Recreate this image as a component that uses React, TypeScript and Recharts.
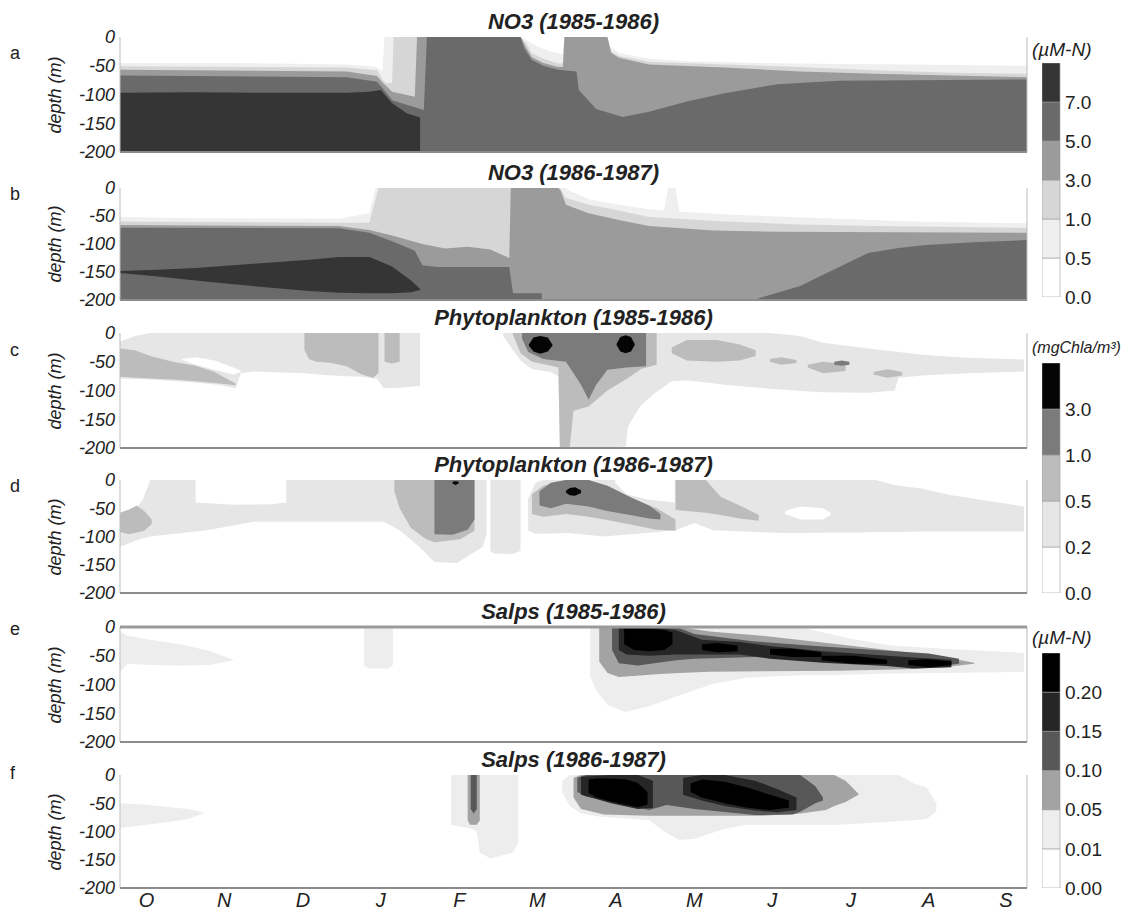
import React from 'react'
import { ComposedChart, Area, XAxis, YAxis, ReferenceLine, BarChart, Bar } from 'recharts'

// [month since 1 Oct, upper depth, lower depth]
type Pt = [number, number, number]
type Shape = [string, Pt[]]

const FONT = "'Liberation Sans', Arial, Helvetica, sans-serif"

const MONTHS = ['O', 'N', 'D', 'J', 'F', 'M', 'A', 'M', 'J', 'J', 'A', 'S']
const MONTH_POS = [0.35, 1.38, 2.42, 3.45, 4.49, 5.52, 6.56, 7.6, 8.63, 9.67, 10.7, 11.72]
const DEPTH_TICKS = [0, -50, -100, -150, -200]

// grey levels
const N05 = '#efefef', N1 = '#d6d6d6', N3 = '#9b9b9b', N5 = '#6a6a6a', N7 = '#353535'
const P02 = '#e6e6e6', P05 = '#bcbcbc', P1 = '#7b7b7b', P3 = '#050505'
const S001 = '#ededed', S005 = '#a3a3a3', S010 = '#585858', S015 = '#262626', S020 = '#000000'

const no3Labels = ['0.0', '0.5', '1.0', '3.0', '5.0', '7.0']
const no3Colors = ['#ffffff', N05, N1, N3, N5, N7]
const phyLabels = ['0.0', '0.2', '0.5', '1.0', '3.0']
const phyColors = ['#ffffff', P02, P05, P1, P3]
const salLabels = ['0.00', '0.01', '0.05', '0.10', '0.15', '0.20']
const salColors = ['#ffffff', S001, S005, S010, S015, S020]

const floor = (pts: [number, number][]): Pt[] => pts.map(([x, t]) => [x, t, -200])

// ---- a: NO3 1985-1986
const aGe05 = floor([[0, -45], [1, -45], [2, -46], [3, -48], [3.4, -52], [3.47, -60], [3.5, 0], [5.3, 0], [5.38, -5], [5.5, -15], [5.7, -25], [5.86, -30], [5.88, 0], [6.42, 0], [6.47, -15], [6.6, -28], [7, -38], [7.5, -42], [8.5, -45], [9.5, -47], [10.5, -48], [12, -50]])
const aGe1 = floor([[0, -51], [3, -53], [3.4, -58], [3.48, -75], [3.52, -80], [3.6, -80], [3.62, 0], [5.3, 0], [5.37, -10], [5.45, -28], [5.6, -38], [5.8, -46], [5.86, -46], [5.88, 0], [6.42, 0], [6.46, -22], [6.6, -33], [7, -43], [8, -48], [9, -52], [10, -58], [11, -62], [12, -64]])
const aGe3 = floor([[0, -57], [3, -60], [3.4, -68], [3.48, -80], [3.6, -95], [3.9, -104], [3.93, 0], [5.3, 0], [5.36, -15], [5.45, -35], [5.6, -45], [5.8, -52], [5.86, -52], [5.88, 0], [6.45, 0], [6.5, -28], [6.6, -36], [7, -48], [8, -53], [9, -60], [10, -64], [11, -67], [12, -70]])
const aGe5 = floor([[0, -67], [3, -70], [3.4, -78], [3.48, -90], [3.6, -110], [3.9, -122], [4.02, -127], [4.06, 0], [5.3, 0], [5.35, -20], [5.45, -40], [5.6, -50], [5.8, -57], [6.04, -60], [6.07, -92], [6.3, -125], [6.65, -139], [7, -130], [7.5, -112], [8, -98], [8.7, -82], [9.5, -76], [10.5, -75], [12, -74]])
const aGe7 = floor([[0, -97], [1, -96], [2, -97], [3, -97], [3.3, -95], [3.45, -92], [3.6, -115], [3.8, -133], [3.97, -140]])

// ---- b: NO3 1986-1987
const bGe05 = floor([[0, -52], [1, -54], [2.9, -55], [3.3, -45], [3.38, 0], [5.9, 0], [5.95, -5], [6.2, -20], [6.6, -30], [7, -38], [7.2, -40], [7.25, 0], [7.35, 0], [7.4, -42], [8, -47], [8.5, -50], [9.5, -55], [10.5, -60], [12, -63]])
const bGe1 = floor([[0, -60], [2.9, -62], [3.3, -62], [3.42, 0], [5.82, 0], [5.9, -18], [6.2, -30], [6.6, -40], [7, -52], [8, -60], [9, -65], [10, -68], [12, -71]])
const bGe3 = floor([[0, -66], [2.9, -68], [3.3, -75], [3.6, -85], [4, -100], [4.3, -108], [4.6, -105], [4.9, -110], [5.1, -122], [5.15, -125], [5.17, 0], [5.8, 0], [5.83, -5], [5.9, -30], [6.2, -45], [6.6, -57], [7, -68], [7.85, -76], [8.7, -78], [12, -80]])
const bGe5a = floor([[0, -71], [2.9, -72], [3.3, -80], [3.6, -95], [3.9, -112], [4, -138], [4.2, -141], [5.15, -141], [5.2, -188], [5.58, -188]])
const bGe5b = floor([[8.4, -200], [8.47, -196], [9, -175], [9.35, -152], [9.9, -116], [10.3, -107], [10.67, -102], [11.3, -97], [12, -93]])
const bGe7: Pt[] = [[0, -148, -152], [0.5, -146, -158], [1, -143, -165], [1.5, -138, -172], [2, -133, -178], [2.5, -128, -184], [2.9, -123, -187], [3.3, -123, -188], [3.6, -140, -188], [3.85, -165, -186], [3.97, -180, -182]]

// ---- c: Phytoplankton 1985-1986
const cGe02Left: Pt[] = [[0, -15, -79], [0.2, -5, -80], [0.4, 0, -81], [0.9, 0, -85], [1.3, 0, -90], [1.53, 0, -96], [1.6, 0, -70], [1.77, 0, -67], [2.44, 0, -70], [2.8, 0, -74], [3.2, 0, -76], [3.4, 0, -80], [3.49, 0, -96], [3.7, 0, -95], [3.97, 0, -92]]
const cGap: Pt[] = [[0.82, -45, -47], [1.0, -42, -55], [1.25, -48, -64], [1.5, -60, -72], [1.6, -66, -68]]
const cGe05Wedge: Pt[] = [[0, -27, -76], [0.2, -30, -78], [0.4, -40, -79], [0.7, -50, -81], [1.0, -57, -84], [1.25, -68, -87], [1.53, -88, -91]]
const cGe05Block: Pt[] = [[2.44, 0, -29], [2.5, 0, -45], [2.6, 0, -50], [2.8, 0, -52], [3.0, 0, -58], [3.2, 0, -72], [3.35, 0, -78], [3.42, 0, -69]]
const cGe05Strip: Pt[] = [[3.5, 0, -50], [3.6, 0, -53], [3.7, 0, -50]]
const cGe02Bloom: Pt[] = [[5.07, 0, -5], [5.2, 0, -30], [5.3, 0, -48], [5.45, 0, -63], [5.7, 0, -68], [5.8, 0, -75], [5.82, 0, -200], [6.69, 0, -198], [6.72, 0, -163], [6.88, 0, -128], [7.07, 0, -105], [7.3, 0, -84], [7.5, 0, -82], [8, 0, -90], [8.6, 0, -97], [9, -5, -101], [9.3, -17, -103], [9.9, -27, -104], [10.25, -32, -100], [10.3, -33, -78], [10.62, -38, -74], [11.2, -43, -70], [11.96, -46, -67]]
const cGe05Bloom: Pt[] = [[5.2, 0, -3], [5.3, 0, -35], [5.45, 0, -50], [5.7, 0, -57], [5.8, 0, -60], [5.82, 0, -200], [5.95, 0, -200], [6, 0, -135], [6.2, 0, -128], [6.45, 0, -100], [6.7, 0, -80], [6.9, 0, -62], [7.1, 0, -55]]
const cGe05Fish: Pt[] = [[7.3, -25, -35], [7.5, -12, -48], [7.9, -12, -50], [8.2, -20, -48], [8.41, -30, -40]]
const cGe05Bits1: Pt[] = [[8.6, -45, -50], [8.75, -42, -55], [8.95, -47, -52]]
const cGe05Bits2: Pt[] = [[9.1, -55, -60], [9.3, -50, -70], [9.6, -54, -66]]
const cGe05Bits3: Pt[] = [[9.97, -68, -72], [10.15, -63, -78], [10.35, -68, -74]]
const cGe1Bloom: Pt[] = [[5.32, 0, -10], [5.4, 0, -33], [5.6, 0, -45], [5.9, 0, -50], [6.1, 0, -90], [6.2, 0, -116], [6.3, 0, -90], [6.45, 0, -64], [6.7, 0, -60], [6.96, 0, -58]]
const cGe1Dot: Pt[] = [[9.45, -50, -55], [9.55, -48, -57], [9.65, -50, -55]]
const cGe3Blob1: Pt[] = [[5.41, -20, -22], [5.47, -8, -32], [5.56, -5, -36], [5.66, -8, -32], [5.72, -20, -22]]
const cGe3Blob2: Pt[] = [[6.57, -19, -21], [6.62, -7, -32], [6.69, -4, -35], [6.76, -7, -32], [6.81, -19, -21]]

// ---- d: Phytoplankton 1986-1987
const dGe02Left: Pt[] = [[0, -88, -118], [0.2, -53, -108], [0.3, -35, -103], [0.4, 0, -100], [1.15, 0, -89], [1.77, 0, -74], [3.49, 0, -74], [3.7, 0, -89], [3.96, 0, -118], [4.16, 0, -145], [4.46, 0, -147], [4.8, 0, -118], [4.85, 0, -96]]
const dGap1: Pt[] = [[1.0, 0, -40], [1.5, 0, -44], [2.0, 0, -43], [2.2, 0, -40]]
const dGe05Left: Pt[] = [[0, -58, -92], [0.12, -52, -96], [0.22, -45, -93], [0.32, -55, -90], [0.42, -70, -78]]
const dGe05F: Pt[] = [[3.63, 0, -20], [3.7, 0, -50], [3.85, 0, -85], [4.05, 0, -105], [4.16, 0, -110], [4.5, 0, -105], [4.69, 0, -90]]
const dGe1F: Pt[] = [[4.16, 0, -96], [4.4, 0, -97], [4.6, 0, -88], [4.69, 0, -70]]
const dGe3Dot: Pt[] = [[4.4, -3, -6], [4.44, -2, -9], [4.48, -3, -6]]
const dGe02Strip: Pt[] = [[4.9, 0, -125], [4.95, 0, -130], [5.2, 0, -131], [5.3, 0, -125]]
const dGe02Bloom: Pt[] = [[5.4, -33, -90], [5.5, -5, -95], [5.6, 0, -95], [5.93, 0, -94], [6.4, 0, -100], [6.96, 0, -94], [7.35, 0, -89], [7.6, 0, -76], [7.85, 0, -89], [8.8, 0, -94], [9.8, 0, -93], [10, 0, -92], [10.24, -9, -92], [10.6, -15, -91], [11, -27, -91], [11.96, -47, -91]]
const dGap2: Pt[] = [[6.55, 0, -5], [6.7, 0, -25], [7.0, 0, -35], [7.34, 0, -40]]
const dGap3: Pt[] = [[8.8, -55, -60], [9.0, -47, -70], [9.3, -50, -70], [9.4, -58, -62]]
const dGe05Bloom: Pt[] = [[5.45, -25, -60], [5.6, -10, -65], [5.9, 0, -60], [6.2, 0, -65], [6.5, -20, -72], [6.8, -35, -80], [7.1, -50, -88], [7.35, -70, -90]]
const dGe05Block: Pt[] = [[7.35, 0, -53], [7.75, 0, -58], [7.95, -30, -62], [8.2, -45, -68], [8.45, -62, -72]]
const dGe1Bloom: Pt[] = [[5.55, -20, -45], [5.7, -5, -50], [5.9, 0, -42], [6.2, 0, -47], [6.45, -10, -55], [6.75, -30, -62], [7, -45, -68], [7.15, -60, -70]]
const dGe3Blob: Pt[] = [[5.9, -19, -22], [5.95, -14, -27], [6.02, -13, -28], [6.1, -18, -23]]

// ---- e: Salps 1985-1986
const eGe001Left: Pt[] = [[0, -8, -78], [0.1, -15, -64], [0.4, -22, -66], [0.8, -30, -67], [1.2, -42, -66], [1.5, -57, -58]]
const eGe001Strip: Pt[] = [[3.23, 0, -68], [3.3, 0, -72], [3.55, 0, -72], [3.61, 0, -66]]
const eGe001Bloom: Pt[] = [[6.22, 0, -85], [6.3, 0, -110], [6.45, 0, -135], [6.69, 0, -148], [7, 0, -138], [7.36, 0, -121], [7.84, 0, -99], [8.3, 0, -88], [9, 0, -84], [9.65, -20, -83], [10.2, -32, -81], [10.9, -38, -80], [11.96, -45, -78]]
const eGe005: Pt[] = [[6.34, 0, -60], [6.45, 0, -80], [6.6, 0, -87], [7.1, 0, -82], [7.4, 0, -80], [7.8, -8, -78], [8.5, -15, -77], [9.5, -30, -76], [10.5, -45, -73], [10.9, -52, -70], [11.3, -62, -64]]
const eGe010: Pt[] = [[6.51, 0, -40], [6.6, 0, -63], [6.85, 0, -67], [7.36, 0, -58], [7.6, -12, -55], [8.4, -25, -52], [9.2, -33, -58], [10, -40, -65], [10.7, -46, -70], [11.1, -55, -64]]
const eGe015: Pt[] = [[6.6, 0, -40], [6.7, 0, -48], [7, 0, -50], [7.35, -5, -48], [7.7, -22, -48], [8.2, -26, -48], [8.6, -33, -55], [9.3, -42, -62], [10.15, -50, -68], [10.5, -53, -72], [11, -57, -70]]
const eGe020a: Pt[] = [[6.67, -3, -30], [6.8, -3, -40], [7, -3, -42], [7.2, -5, -40], [7.31, -10, -30]]
const eGe020b: Pt[] = [[7.7, -30, -40], [7.9, -28, -44], [8.17, -32, -42]]
const eGe020c: Pt[] = [[8.6, -38, -48], [8.9, -38, -52], [9.28, -44, -52]]
const eGe020d: Pt[] = [[9.28, -50, -58], [9.7, -50, -64], [10.15, -57, -64]]
const eGe020e: Pt[] = [[10.43, -58, -66], [10.7, -56, -70], [11, -60, -66]]

// ---- f: Salps 1986-1987
const fGe001Left: Pt[] = [[0, -50, -94], [0.3, -52, -89], [0.6, -56, -84], [0.9, -60, -78], [1.1, -66, -68]]
const fGe001F: Pt[] = [[4.38, 0, -88], [4.65, 0, -95], [4.72, 0, -100], [4.76, 0, -137], [4.9, 0, -148], [5.2, 0, -137], [5.27, 0, -120]]
const fGe005F: Pt[] = [[4.6, 0, -80], [4.63, 0, -88], [4.72, 0, -88], [4.76, 0, -80]]
const fGe010F: Pt[] = [[4.64, 0, -60], [4.68, 0, -68], [4.72, 0, -60]]
const fGe001Bloom: Pt[] = [[5.85, -10, -30], [5.95, 0, -55], [6.1, 0, -68], [6.3, 0, -73], [7, 0, -80], [7.2, 0, -100], [7.4, 0, -115], [7.6, 0, -113], [8, 0, -95], [8.3, 0, -88], [9.5, 0, -88], [10.3, 0, -82], [10.5, -15, -80], [10.67, -22, -78], [10.8, -50, -65]]
const fGe005: Pt[] = [[6, -5, -40], [6.1, 0, -60], [6.4, 0, -70], [7, 0, -72], [7.5, 0, -72], [8.5, 0, -72], [9, 0, -68], [9.34, 0, -62], [9.45, 0, -55], [9.6, -10, -48], [9.77, -33, -35]]
const fGe010: Pt[] = [[6.05, -5, -30], [6.17, 0, -38], [6.6, 0, -50], [7, 0, -62], [7.23, 0, -53], [7.6, 0, -60], [8.4, 0, -71], [8.9, 0, -70], [9, 0, -65], [9.2, -20, -50], [9.3, -40, -45]]
const fGe015a: Pt[] = [[6.1, -3, -35], [6.5, 0, -50], [6.85, 0, -60], [7.05, -10, -58]]
const fGe015b: Pt[] = [[7.45, -5, -35], [7.7, 0, -45], [8, 0, -55], [8.4, -10, -63], [8.7, -25, -66], [8.95, -40, -62]]
const fGe020a: Pt[] = [[6.2, -8, -32], [6.3, -6, -40], [6.5, -6, -47], [6.7, -8, -53], [6.85, -14, -57], [6.98, -30, -52]]
const fGe020b: Pt[] = [[7.55, -15, -30], [7.7, -8, -40], [8, -12, -50], [8.3, -22, -58], [8.6, -35, -62], [8.85, -45, -58]]

const W = '#ffffff'

const panels = [
  { key: 'a', top: 37, h: 115, title: 'NO3 (1985-1986)', letterTop: 53, shapes: [[N05, aGe05], [N1, aGe1], [N3, aGe3], [N5, aGe5], [N7, aGe7]] as Shape[] },
  { key: 'b', top: 188, h: 112, title: 'NO3 (1986-1987)', letterTop: 194, shapes: [[N05, bGe05], [N1, bGe1], [N3, bGe3], [N5, bGe5a], [N5, bGe5b], [N7, bGe7]] as Shape[] },
  {
    key: 'c', top: 333, h: 115, title: 'Phytoplankton (1985-1986)', letterTop: 350, shapes: [
      [P02, cGe02Left], [W, cGap], [P05, cGe05Wedge], [P05, cGe05Block], [P05, cGe05Strip],
      [P02, cGe02Bloom], [P05, cGe05Bloom], [P05, cGe05Fish], [P05, cGe05Bits1], [P05, cGe05Bits2], [P05, cGe05Bits3],
      [P1, cGe1Bloom], [P1, cGe1Dot], [P3, cGe3Blob1], [P3, cGe3Blob2],
    ] as Shape[],
  },
  {
    key: 'd', top: 480, h: 113, title: 'Phytoplankton (1986-1987)', letterTop: 486, shapes: [
      [P02, dGe02Left], [W, dGap1], [P05, dGe05Left], [P05, dGe05F], [P1, dGe1F], [P3, dGe3Dot], [P02, dGe02Strip],
      [P02, dGe02Bloom], [W, dGap2], [W, dGap3], [P05, dGe05Bloom], [P05, dGe05Block], [P1, dGe1Bloom], [P3, dGe3Blob],
    ] as Shape[],
  },
  {
    key: 'e', top: 627, h: 115, title: 'Salps (1985-1986)', letterTop: 629, topLine: true, shapes: [
      [S001, eGe001Left], [S001, eGe001Strip], [S001, eGe001Bloom], [S005, eGe005], [S010, eGe010], [S015, eGe015],
      [S020, eGe020a], [S020, eGe020b], [S020, eGe020c], [S020, eGe020d], [S020, eGe020e],
    ] as Shape[],
  },
  {
    key: 'f', top: 775, h: 113, title: 'Salps (1986-1987)', letterTop: 773, last: true, shapes: [
      [S001, fGe001Left], [S001, fGe001F], [S005, fGe005F], [S010, fGe010F], [S001, fGe001Bloom], [S005, fGe005], [S010, fGe010],
      [S015, fGe015a], [S015, fGe015b], [S020, fGe020a], [S020, fGe020b],
    ] as Shape[],
  },
]

const toRange = (pts: Pt[]) => pts.map(([x, t, b]) => ({ x, r: [b, t] }))

function Panel({ top, h, shapes, last, topLine }: { top: number; h: number; shapes: Shape[]; last?: boolean; topLine?: boolean }) {
  const xh = last ? 30 : 0
  return (
    <div style={{ position: 'absolute', left: 0, top: top - 12 }}>
      <ComposedChart width={1040} height={h + 24 + xh} margin={{ top: 12, right: 13, bottom: 12, left: 0 }}>
        <XAxis
          dataKey="x" type="number" domain={[0, 12]} allowDataOverflow height={xh}
          ticks={last ? MONTH_POS : []} interval={0}
          tickFormatter={(_v: number, i: number) => MONTHS[i]}
          tick={last ? { fontSize: 20, fontStyle: 'italic', fill: '#222', fontFamily: FONT } : false}
          axisLine={false} tickLine={false} tickSize={2} tickMargin={3}
        />
        <YAxis
          type="number" domain={[-200, 0]} allowDataOverflow ticks={DEPTH_TICKS} interval={0} width={120}
          axisLine={false} tickLine={false} tickSize={3} tickMargin={2}
          tick={{ fontSize: 18, fontStyle: 'italic', fill: '#222', fontFamily: FONT }}
        />
        {shapes.map(([c, pts], i) => (
          <Area
            key={i} data={toRange(pts)} dataKey="r" type="linear" fill={c} fillOpacity={1}
            stroke="none" dot={false} activeDot={false} isAnimationActive={false}
          />
        ))}
        <ReferenceLine x={0} stroke="#bdbdbd" />
        <ReferenceLine x={12} stroke="#bdbdbd" />
        <ReferenceLine y={-200} stroke="#8c8c8c" strokeWidth={2} />
        {topLine && <ReferenceLine y={0} stroke="#9a9a9a" strokeWidth={3} />}
      </ComposedChart>
    </div>
  )
}

function ColorBar({ top, h, colors, labels }: { top: number; h: number; colors: string[]; labels: string[] }) {
  const row: Record<string, number | string> = { k: 'bar' }
  colors.forEach((_, i) => { row['b' + i] = 1 })
  return (
    <div style={{ position: 'absolute', left: 1042, top: top - 10 }}>
      <BarChart width={92} height={h + 20} data={[row]} margin={{ top: 10, right: 0, bottom: 10, left: 0 }} barCategoryGap={0}>
        <XAxis dataKey="k" hide />
        <YAxis
          orientation="right" type="number" domain={[0, colors.length]} allowDataOverflow
          ticks={labels.map((_, i) => i)} interval={0} tickFormatter={(v: number) => labels[v]}
          width={74} axisLine={false} tickLine={false} tickSize={3} tickMargin={2}
          tick={{ fontSize: 19, fill: '#222', fontFamily: FONT }}
        />
        {colors.map((c, i) => (
          <Bar key={i} dataKey={'b' + i} stackId="cb" fill={c} stroke="#9a9a9a" strokeWidth={0.6} isAnimationActive={false} />
        ))}
      </BarChart>
    </div>
  )
}

const unitStyle: React.CSSProperties = { position: 'absolute', fontSize: 19, fontStyle: 'italic', color: '#222', whiteSpace: 'nowrap', lineHeight: '20px' }

export default function App() {
  return (
    <div style={{ position: 'absolute', left: 0, top: 0, width: 1136, height: 912, background: '#fff', overflow: 'hidden', fontFamily: FONT, color: '#222' }}>
      {panels.map((p) => (
        <React.Fragment key={p.key}>
          <div style={{ position: 'absolute', left: 120, width: 907, top: p.top - 27, textAlign: 'center', fontSize: 22, fontWeight: 'bold', fontStyle: 'italic', lineHeight: '24px', whiteSpace: 'nowrap' }}>{p.title}</div>
          <div style={{ position: 'absolute', left: 10, top: p.letterTop - 10, fontSize: 18, lineHeight: '20px' }}>{p.key}</div>
          <div style={{ position: 'absolute', left: 55, top: p.top + p.h / 2, transform: 'translate(-50%, -50%) rotate(-90deg)', fontSize: 18, fontStyle: 'italic', whiteSpace: 'nowrap', lineHeight: '20px' }}>depth (m)</div>
          <Panel top={p.top} h={p.h} shapes={p.shapes} last={p.last} topLine={p.topLine} />
        </React.Fragment>
      ))}
      <ColorBar top={63} h={234} colors={no3Colors} labels={no3Labels} />
      <ColorBar top={363} h={230} colors={phyColors} labels={phyLabels} />
      <ColorBar top={653} h={235} colors={salColors} labels={salLabels} />
      <div style={{ ...unitStyle, left: 1032, top: 40 }}>(µM-N)</div>
      <div style={{ ...unitStyle, left: 1032, top: 338, fontSize: 16 }}>(mgChla/m³)</div>
      <div style={{ ...unitStyle, left: 1032, top: 628 }}>(µM-N)</div>
    </div>
  )
}
